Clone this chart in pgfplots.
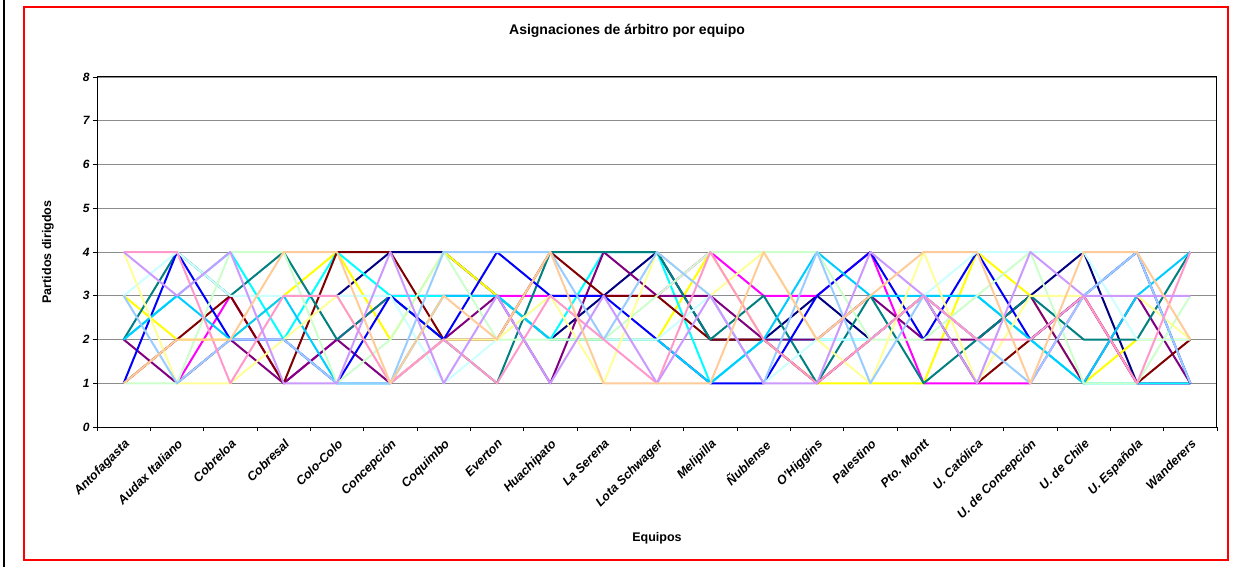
\documentclass[border=0pt]{standalone}
\usepackage{pgfplots}
\pgfplotsset{compat=1.18}
\usepackage{pgfplotstable}
\usepackage{fontspec}
\setmainfont{Liberation Sans}
\definecolor{cnavy}{HTML}{000080}
\definecolor{cmag}{HTML}{FF00FF}
\definecolor{cyel}{HTML}{FFFF00}
\definecolor{ccyan}{HTML}{00FFFF}
\definecolor{cpur}{HTML}{800080}
\definecolor{cmar}{HTML}{800000}
\definecolor{cteal}{HTML}{008080}
\definecolor{cblue}{HTML}{0000FF}
\definecolor{csky}{HTML}{00CCFF}
\definecolor{cltq}{HTML}{CCFFFF}
\definecolor{cltg}{HTML}{CCFFCC}
\definecolor{clty}{HTML}{FFFF99}
\definecolor{cpale}{HTML}{99CCFF}
\definecolor{crose}{HTML}{FF99CC}
\definecolor{clav}{HTML}{CC99FF}
\definecolor{ctan}{HTML}{FFCC99}
\pgfplotstableread{
x navy mag yel cyan pur mar teal blue sky ltq ltg lty pale rose lav tan
0  nan nan 3 2 2 1 2 1 2 3 1 4 3 4 4 1
1  nan 1   2 3 1 2 4 4 3 4 1 1 1 4 3 2
2  nan 3   2 4 2 3 3 2 2 3 4 1 2 1 4 2
3  nan 1   3 2 1 1 4 2 3 3 4 2 2 3 1 4
4  3   2   4 4 2 4 2 1 1 3 1 3 1 3 1 4
5  4   3   2 3 1 4 3 3 1 3 2 1 1 1 4 1
6  4   3   4 3 2 2 2 2 3 1 4 2 4 2 1 3
7  3   3   3 3 3 2 1 4 3 2 2 2 4 1 3 2
8  2   3   2 2 1 4 4 3 2 3 2 3 4 3 1 4
9  3   3   2 4 4 3 4 3 2 2 2 1 2 2 3 1
10 4   3   2 4 3 3 4 2 2 2 3 4 4 1 1 1
11 2   4   4 1 3 2 2 1 1 3 4 3 3 4 3 1
12 2   3   2 2 2 2 3 1 2 1 4 4 1 2 1 4
13 3   3   1 2 2 1 1 3 4 2 4 2 4 1 1 2
14 2   4   1 2 3 2 3 4 3 2 2 1 1 2 4 3
15 3   1   1 3 2 3 1 2 3 3 2 4 3 3 3 4
16 2   1   4 3 2 1 2 4 3 4 3 1 2 2 1 4
17 3   1   3 2 3 2 3 2 2 4 4 3 1 2 4 1
18 4   3   1 1 1 3 2 3 1 4 1 3 3 3 3 4
19 1   1   2 1 3 1 2 4 3 2 1 3 4 1 3 4
20 1   1   2 1 1 2 4 1 4 2 3 2 1 4 3 2
}\data
\begin{document}
\begin{tikzpicture}[x=1pt,y=1pt]
\fill[white] (0,0) rectangle (1248,-567);
\draw[black, line width=2pt] (4,0) -- (4,-567);
\draw[red, line width=2pt] (24,-7) rectangle (1228,-560);
\begin{axis}[
  at={(97pt,-427pt)}, anchor=south west,
  scale only axis, width=1120pt, height=350pt,
  xmin=-0.5, xmax=20.5, ymin=0, ymax=8,
  xtick={0,...,20}, major x tick style={draw=none},
  minor xtick={-0.5,0.5,...,20.5},
  minor tick length=4pt,
  xtick pos=bottom, ytick pos=left,
  xticklabels={Antofagasta,Audax Italiano,Cobreloa,Cobresal,Colo-Colo,Concepción,Coquimbo,Everton,Huachipato,La Serena,Lota Schwager,Melipilla,Ñublense,O'Higgins,Palestino,Pto. Montt,U. Católica,U. de Concepción,U. de Chile,U. Española,Wanderers},
  x tick label style={rotate=45, anchor=north east, font=\fontsize{12.5}{14}\selectfont\bfseries\itshape, inner sep=1pt, yshift=-4pt, xshift=-4pt},
  ytick={0,...,8}, yticklabels={0,1,2,3,4,5,6,7,8},
  y tick label style={font=\fontsize{12}{14}\selectfont\bfseries\itshape},
  tick align=outside, major tick length=4pt,
  ymajorgrids, grid style={gray!90, line width=0.8pt},
  axis line style={black, line width=1pt},
  tick style={black, line width=0.8pt},
  unbounded coords=jump,
  every axis plot/.append style={line width=2pt, mark=none, line join=round},
  clip=false,
]
\addplot[cnavy] table[x=x,y=navy]{\data};
\addplot[cmag] table[x=x,y=mag]{\data};
\addplot[cyel] table[x=x,y=yel]{\data};
\addplot[ccyan] table[x=x,y=cyan]{\data};
\addplot[cpur] table[x=x,y=pur]{\data};
\addplot[cmar] table[x=x,y=mar]{\data};
\addplot[cteal] table[x=x,y=teal]{\data};
\addplot[cblue] table[x=x,y=blue]{\data};
\addplot[csky] table[x=x,y=sky]{\data};
\addplot[cltq] table[x=x,y=ltq]{\data};
\addplot[cltg] table[x=x,y=ltg]{\data};
\addplot[clty] table[x=x,y=lty]{\data};
\addplot[cpale] table[x=x,y=pale]{\data};
\addplot[crose] table[x=x,y=rose]{\data};
\addplot[clav] table[x=x,y=lav]{\data};
\addplot[ctan] table[x=x,y=tan]{\data};
\end{axis}
\node[font=\fontsize{14}{16}\selectfont\bfseries] at (627,-31) {Asignaciones de árbitro por equipo};
\node[font=\fontsize{12.5}{14}\selectfont\bfseries, rotate=90] at (48,-252) {Partidos dirigdos};
\node[font=\fontsize{12.5}{14}\selectfont\bfseries] at (657,-538) {Equipos};
\pgfresetboundingbox
\path[use as bounding box] (0,0) rectangle (1248,-567);
\end{tikzpicture}
\end{document}
